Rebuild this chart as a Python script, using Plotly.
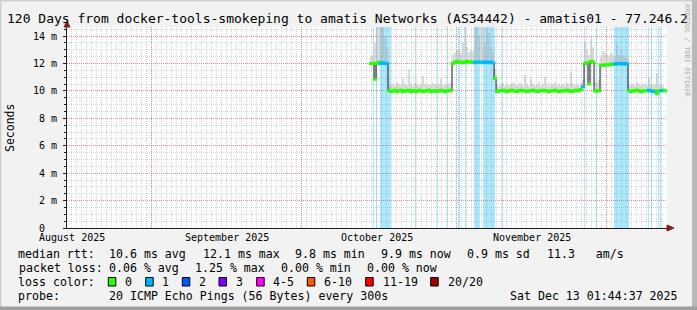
import plotly.graph_objects as go
import pandas as pd

# ---------------- data ----------------
X_START = "2025-08-15 01:44:37"
X_END = "2025-12-13 01:44:37"
Y_MAX = 14.657

sample_start = "2025-10-14 16:19"
sample_step_hours = 9.6

median_ms = [
    12.0, 12.0, 10.85, 12.0, 12.1, 12.0, 12.05, 12.0, 12.0,
    10.0, 9.95, 10.0, 10.05, 9.95, 10.0, 10.05, 9.95, 10.0, 10.0, 10.05, 9.95, 10.0, 10.0, 9.95, 10.05,
    10.0, 9.95, 10.0, 10.0, 10.05, 9.95, 10.0, 10.0, 9.95, 10.0, 10.05, 10.0, 9.95, 10.0, 10.0, 10.05,
    12.0, 12.1, 12.15, 12.1, 12.1, 12.05, 12.1, 12.15, 12.1, 12.1, 12.1, 12.05, 12.1, 12.1, 12.1, 12.05,
    12.1, 12.1, 12.05, 12.1, 12.05,
    10.9,
    9.95, 10.0, 10.0, 10.05, 10.0, 9.95, 10.0, 10.05, 10.0, 10.0, 9.95, 10.0, 10.05, 10.0, 10.0, 9.95,
    10.0, 10.0, 10.05, 10.0, 9.95, 10.0, 10.0, 10.05, 10.0, 10.0, 9.95, 10.0, 10.0, 10.05, 10.0, 9.95,
    10.0, 10.0, 10.0, 10.05, 10.0, 9.95, 10.0, 10.0, 10.05, 10.0, 10.1, 10.3,
    12.0, 12.05, 10.5, 12.15, 12.1, 10.0, 10.0, 10.0,
    11.85, 11.85, 11.9, 11.9, 11.9, 11.95, 11.95, 11.95, 12.0, 11.95, 12.0, 11.95, 12.0, 11.95,
    10.0, 9.95, 10.0, 10.0, 10.05, 10.0, 9.95, 10.0, 10.0, 10.0, 10.05, 10.0, 9.95, 10.0, 9.8, 10.0,
    10.0, 10.05, 10.0,
]

smoke_max_ms = [
    12.5, 12.6, 13.5, 14.8, 14.8, 14.8, 14.8, 14.0, 13.2,
    10.5, 10.4, 10.5, 10.4, 10.6, 10.5, 10.4, 10.9, 10.5, 10.4, 11.6, 10.5, 10.4, 10.6, 10.5, 10.4,
    10.5, 11.1, 10.5, 10.4, 10.5, 10.4, 10.6, 10.5, 10.4, 10.5, 10.9, 10.4, 10.5, 10.4, 10.5, 10.6,
    12.6, 12.8, 13.0, 12.9, 12.7, 13.5, 14.8, 13.2, 12.8, 13.0, 12.9, 14.8, 14.8, 14.0, 14.8, 14.8,
    13.5, 14.8, 14.2, 13.2, 12.8,
    11.6,
    10.5, 10.4, 10.5, 10.6, 10.4, 10.5, 10.4, 10.5, 10.6, 10.5, 10.4, 10.5, 10.5, 10.4, 11.2, 10.5,
    10.4, 10.9, 10.5, 10.4, 10.5, 10.7, 10.4, 10.5, 11.0, 10.4, 10.5, 10.4, 10.5, 10.6, 10.4, 10.5,
    10.4, 10.5, 10.4, 10.6, 10.5, 11.4, 10.5, 10.4, 10.5, 10.4, 10.6, 10.8,
    13.6, 13.0, 12.6, 13.8, 13.2, 10.7, 10.6, 10.8,
    12.5, 12.9, 12.8, 12.6, 12.5, 12.7, 12.6, 12.5, 13.4, 12.6, 13.0, 12.6, 12.5, 12.4,
    10.5, 10.4, 10.5, 10.4, 10.6, 10.5, 10.4, 10.5, 10.5, 10.4, 11.0, 10.5, 10.4, 10.5, 11.3, 10.4,
    10.5, 10.4, 10.5,
]

loss_pings = [
    0, 0, 0, 0, 0, 1, 1, 1, 1,
    0, 0, 0, 0, 0, 0, 0, 0, 0, 0, 0, 0, 0, 0, 0, 0,
    0, 0, 0, 0, 0, 0, 0, 0, 0, 0, 0, 0, 0, 0, 0, 0,
    0, 0, 0, 0, 0, 0, 0, 0, 0, 0, 0, 1, 1, 0, 1, 1,
    1, 1, 1, 1, 1,
    0,
    0, 0, 0, 0, 0, 0, 0, 0, 0, 0, 0, 0, 0, 0, 0, 0,
    0, 0, 0, 0, 0, 0, 0, 0, 0, 0, 0, 0, 0, 0, 0, 0,
    0, 0, 0, 0, 0, 0, 0, 0, 0, 0, 0, 1,
    0, 0, 0, 0, 0, 0, 0, 0,
    0, 0, 0, 0, 0, 0, 0, 1, 1, 0, 1, 1, 1, 1,
    0, 0, 0, 0, 0, 0, 0, 0, 0, 0, 1, 1, 1, 0, 0, 0,
    1, 0, 0,
]

# loss bars (periods with packet loss)
loss_start = [
    "2025-10-15 04:19", "2025-10-15 18:43", "2025-10-16 16:19", "2025-10-23 16:19",
    "2025-10-28 01:55", "2025-10-29 23:31", "2025-11-01 06:43", "2025-11-02 13:55",
    "2025-11-04 11:31", "2025-11-06 06:43", "2025-11-09 23:31", "2025-11-26 11:31",
    "2025-11-28 21:07", "2025-12-02 11:31", "2025-12-09 06:43", "2025-12-09 18:43",
    "2025-12-11 06:43", "2025-12-11 16:19",
]
loss_hours = [4.8, 4.8, 52.8, 4.8, 4.8, 4.8, 9.6, 4.8, 28.8, 57.6, 4.8, 4.8, 4.8, 72.0, 4.8, 4.8, 4.8, 4.8]

loss_labels = ["0", "1", "2", "3", "4-5", "6-10", "11-19", "20/20"]
loss_colors = ["#26ff00", "#00b8ff", "#0059ff", "#7e00ff", "#ff00ff", "#ff5500", "#ff0000", "#a10000"]

y_tickvals = [0, 2, 4, 6, 8, 10, 12, 14]
y_ticktext = ["0\u00a0\u00a0", "2 m", "4 m", "6 m", "8 m", "10 m", "12 m", "14 m"]
month_starts = ["2025-09-01", "2025-10-01", "2025-11-01", "2025-12-01"]
month_label_pos = ["2025-08-16", "2025-09-16", "2025-10-16", "2025-11-16"]
month_labels = ["August 2025", "September 2025", "October 2025", "November 2025"]

assert len(median_ms) == len(smoke_max_ms) == len(loss_pings), (len(median_ms), len(smoke_max_ms), len(loss_pings))

# ---------------- geometry helpers ----------------
W, H = 697, 310
PL, PR, PT, PB = 67, 667, 27, 228


def px(x):
    return (x - PL) / (PR - PL)


def py(y):
    return (PB - y) / (PB - PT)


MONO = "DejaVu Sans Mono"

t0 = pd.Timestamp(sample_start)
step = pd.Timedelta(hours=sample_step_hours)
times = [t0 + i * step for i in range(len(median_ms))]
centers = [t + step / 2 for t in times]

fig = go.Figure()

# loss bars
ls = [pd.Timestamp(s) for s in loss_start]
ld = [pd.Timedelta(hours=h) for h in loss_hours]
fig.add_trace(go.Bar(
    x=[s + d / 2 for s, d in zip(ls, ld)],
    y=[Y_MAX] * len(ls),
    width=[d.total_seconds() * 1000 for d in ld],
    marker=dict(color="rgba(0,184,255,0.32)", line=dict(width=0)),
    hoverinfo="skip",
))

# smoke
fig.add_trace(go.Scatter(x=times, y=median_ms, mode="lines", line=dict(width=0, shape="hv"),
                         hoverinfo="skip"))
fig.add_trace(go.Scatter(x=times, y=smoke_max_ms, mode="lines", line=dict(width=0, shape="hv"),
                         fill="tonexty", fillcolor="rgba(165,165,165,0.4)", hoverinfo="skip"))

# median line
fig.add_trace(go.Scatter(x=times, y=median_ms, mode="lines",
                         line=dict(color="#202020", width=1, shape="hv"), hoverinfo="skip"))

# coloured median by loss
for cls in sorted(set(loss_pings)):
    xs = [c for c, l in zip(centers, loss_pings) if l == cls]
    ys = [m for m, l in zip(median_ms, loss_pings) if l == cls]
    fig.add_trace(go.Scatter(
        x=xs, y=ys, mode="markers",
        marker=dict(symbol="line-ew", size=3, line=dict(color=loss_colors[cls], width=3)),
        hoverinfo="skip",
    ))

grid_minor = "rgba(143,143,143,0.36)"
grid_major = "rgba(222,79,79,0.55)"

fig.update_layout(
    width=W, height=H, autosize=False,
    margin=dict(l=PL, r=W - PR, t=PT, b=H - PB, pad=0),
    paper_bgcolor="#f2f2f2", plot_bgcolor="#ffffff",
    showlegend=False, bargap=0,
    font=dict(family=MONO, size=10, color="#000000"),
    xaxis=dict(
        type="date", range=[X_START, X_END], tickmode="array", tickvals=month_starts,
        showticklabels=False, ticks="", showgrid=True, gridcolor=grid_major, griddash="1px,1px",
        gridwidth=1, showline=True, linecolor="#1f1f1f", linewidth=1, zeroline=False,
        minor=dict(tickmode="linear", tick0="2025-08-01", dtick=86400000, showgrid=True,
                   gridcolor=grid_minor, griddash="1px,1px", gridwidth=1),
    ),
    yaxis=dict(
        range=[0, Y_MAX], tickmode="array", tickvals=y_tickvals, ticktext=y_ticktext,
        showgrid=True, gridcolor=grid_major, griddash="1px,1px", gridwidth=1,
        ticks="outside", ticklen=3, tickcolor="#1f1f1f", ticklabelstandoff=4,
        showline=True, linecolor="#1f1f1f", linewidth=1, zeroline=False,
        tickfont=dict(family=MONO, size=10, color="#000000"),
        minor=dict(tickmode="linear", tick0=0, dtick=0.5, showgrid=True, gridcolor=grid_minor,
                   griddash="1px,1px", gridwidth=1, ticks="outside", ticklen=2, tickcolor="#1f1f1f"),
    ),
)

ann = []
# title
ann.append(dict(text="120 Days from docker-tools-smokeping to amatis Networks (AS34442) - amatis01 - 77.246.2",
                x=px(5), y=py(18.5), xref="paper", yref="paper", xanchor="left", yanchor="middle",
                showarrow=False, font=dict(family=MONO, size=13, color="#000")))
# y title
ann.append(dict(text="Seconds", x=px(10), y=py(128), xref="paper", yref="paper", textangle=-90,
                xanchor="center", yanchor="middle", showarrow=False,
                font=dict(family=MONO, size=11.5, color="#000")))
# month labels
for pos, lab in zip(month_label_pos, month_labels):
    ann.append(dict(text=lab, x=pos, y=py(237.5), xref="x", yref="paper", xanchor="center",
                    yanchor="middle", showarrow=False, font=dict(family=MONO, size=10, color="#000")))
# watermark
ann.append(dict(text="RRDTOOL / TOBI OETIKER", x=px(687), y=py(51), xref="paper", yref="paper",
                textangle=90, xanchor="center", yanchor="middle", showarrow=False,
                font=dict(family=MONO, size=7, color="#b0b0b0")))

LF = 11.6
stats = [
    ("median rtt:", 16, 254.3), ("10.6 ms avg", 107.3, 254.3), ("12.1 ms max", 200.5, 254.3),
    ("9.8 ms min", 293.3, 254.3), ("9.9 ms now", 379.3, 254.3), ("0.9 ms sd", 465, 254.3),
    ("11.3   am/s", 545, 254.3),
    ("packet loss:", 16.5, 268.3), ("0.06 % avg", 107.3, 268.3), ("1.25 % max", 193.2, 268.3),
    ("0.00 % min", 279.1, 268.3), ("0.00 % now", 365, 268.3),
    ("loss color:", 16, 281.7),
    ("probe:", 16, 296), ("20 ICMP Echo Pings (56 Bytes) every 300s", 107.3, 296),
]
for txt, x, y in stats:
    ann.append(dict(text=txt.replace(" ", "\u00a0"), x=px(x), y=py(y), xref="paper", yref="paper",
                    xanchor="left", yanchor="middle", showarrow=False,
                    font=dict(family=MONO, size=LF, color="#000")))
ann.append(dict(text="Sat Dec 13 01:44:37 2025", x=px(680), y=py(296), xref="paper", yref="paper",
                xanchor="right", yanchor="middle", showarrow=False,
                font=dict(family=MONO, size=LF, color="#000")))

box_x = [108.3, 145.7, 182.3, 219, 256.7, 307.3, 365.7, 430.7]
label_x = [123.3, 160, 197.3, 234.3, 270.7, 321.7, 381, 445.7]
shapes = []
for bx, lx, lab, col in zip(box_x, label_x, loss_labels, loss_colors):
    shapes.append(dict(type="rect", xref="paper", yref="paper", x0=px(bx), x1=px(bx + 7.5),
                       y0=py(286), y1=py(277.5), fillcolor=col, line=dict(color="#000", width=1)))
    ann.append(dict(text=lab, x=px(lx), y=py(281.7), xref="paper", yref="paper", xanchor="left",
                    yanchor="middle", showarrow=False, font=dict(family=MONO, size=LF, color="#000")))

# arrows
shapes.append(dict(type="path", xref="paper", yref="paper", xsizemode="pixel", ysizemode="pixel",
                   xanchor=1.0, yanchor=0.0, path="M 0,3 L 7,0 L 0,-3 Z",
                   fillcolor="#801f1f", line=dict(color="#801f1f", width=1)))
shapes.append(dict(type="path", xref="paper", yref="paper", xsizemode="pixel", ysizemode="pixel",
                   xanchor=0.0, yanchor=1.0, path="M -3,0 L 3,0 L 0,6 Z",
                   fillcolor="#801f1f", line=dict(color="#801f1f", width=1)))
# frame shades
shapes.append(dict(type="rect", xref="paper", yref="paper", x0=px(-5), x1=px(1.5), y0=py(320), y1=py(-10),
                   fillcolor="#cfcfcf", line=dict(width=0), layer="above"))
shapes.append(dict(type="rect", xref="paper", yref="paper", x0=px(-5), x1=px(705), y0=py(1.5), y1=py(-10),
                   fillcolor="#cfcfcf", line=dict(width=0), layer="above"))
shapes.append(dict(type="rect", xref="paper", yref="paper", x0=px(692), x1=px(705), y0=py(320), y1=py(-10),
                   fillcolor="#b8b8b8", line=dict(width=0), layer="above"))
shapes.append(dict(type="rect", xref="paper", yref="paper", x0=px(-5), x1=px(705), y0=py(320), y1=py(306.5),
                   fillcolor="#9e9e9e", line=dict(width=0), layer="above"))

fig.update_layout(annotations=ann, shapes=shapes)
fig.write_html("out.html")
